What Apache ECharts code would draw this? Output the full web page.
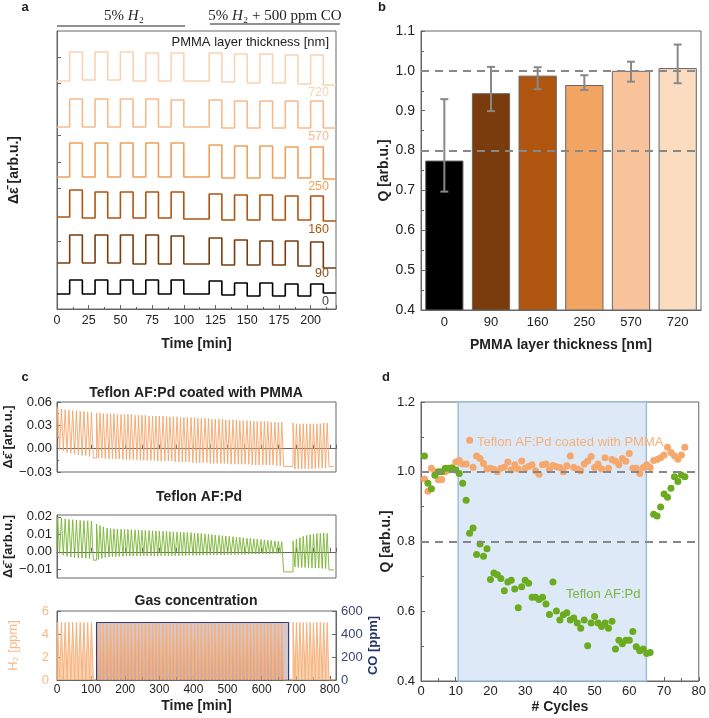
<!DOCTYPE html>
<html><head><meta charset="utf-8">
<script src="https://cdn.jsdelivr.net/npm/echarts@6/dist/echarts.min.js"></script>
<style>html,body{margin:0;padding:0;background:#fff}#c{width:709px;height:718px}</style>
</head><body><div id="c"></div><script>
// ---------- Panel a ----------
const aTimeOn  = [10,30,50,70,90,120,140,160,180,200];
const aTimeOff = [20,40,60,80,100,130,150,170,190,210];
const aTimeEnd = 220;
const aLabels = ['720','570','250','160','90','0'];
const aColors = ['#fbd3b2','#f7ba8c','#f0a05a','#b0540f','#7a3c0d','#000000'];
// low: level before first pulse, then level after each pulse
const aHigh720 = [2.57,2.57,2.57,2.56,2.56,2.56,2.55,2.55,2.54,2.54];
const aLow720  = [2.28,2.29,2.29,2.28,2.28,2.28,2.27,2.26,2.26,2.25,2.24];
const aHigh570 = [2.10,2.10,2.10,2.10,2.09,2.09,2.08,2.08,2.08,2.08];
const aLow570  = [1.82,1.82,1.82,1.82,1.82,1.82,1.81,1.81,1.81,1.81,1.81];
const aHigh250 = [1.66,1.66,1.66,1.66,1.66,1.64,1.63,1.63,1.62,1.62];
const aLow250  = [1.32,1.32,1.32,1.32,1.32,1.32,1.31,1.31,1.31,1.31,1.30];
const aHigh160 = [1.19,1.17,1.17,1.17,1.17,1.15,1.14,1.14,1.13,1.13];
const aLow160  = [0.92,0.91,0.91,0.91,0.91,0.90,0.89,0.89,0.89,0.89,0.88];
const aHigh90  = [0.74,0.74,0.74,0.74,0.73,0.71,0.69,0.68,0.68,0.67];
const aLow90   = [0.46,0.46,0.46,0.45,0.45,0.45,0.44,0.44,0.44,0.43,0.41];
const aHigh0   = [0.29,0.29,0.29,0.29,0.29,0.28,0.26,0.26,0.25,0.25];
const aLow0    = [0.15,0.15,0.15,0.15,0.15,0.15,0.14,0.13,0.13,0.13,0.16];
const aYTicks  = [2.52,2.26,1.74,1.47,1.21,0.68];

// ---------- Panel b ----------
const bCategories = ['0','90','160','250','570','720'];
const bValues = [0.775,0.944,0.988,0.9645,1.000,1.007];
const bErrLow = [0.697,0.899,0.954,0.952,0.973,0.969];
const bErrHigh = [0.929,1.010,1.009,0.989,1.023,1.066];
const bColors = ['#000000','#7a3c0d','#b05510','#f2a562','#f8c39a','#fcdcc1'];

// ---------- Panel c ----------
const cPulseOn = [2,13,24,35,46,57,68,79,90,101,
 116,126,136,147,157,167,177,188,198,208,218,229,239,249,259,270,280,290,300,311,321,331,341,352,362,372,382,393,403,413,423,434,444,454,464,475,485,495,505,516,526,536,546,557,567,577,587,598,608,618,628,639,649,659,
 692,702,712,722,732,742,752,762,772,782,792];
const cPulseLen = 5.5;
const cTimeEnd = 812;
const c1High = [0.053,0.051,0.050,0.050,0.049,0.049,0.048,0.048,0.047,0.047,
 0.046,0.046,0.045,0.045,0.045,0.045,0.044,0.044,0.044,0.044,0.044,0.043,0.043,0.043,0.043,0.042,0.042,0.042,0.042,0.042,
 0.041,0.041,0.041,0.041,0.040,0.040,0.040,0.040,0.040,0.039,0.039,0.039,0.039,0.038,0.038,0.038,0.038,0.037,0.037,0.037,
 0.037,0.036,0.036,0.036,0.036,0.035,0.035,0.035,0.035,0.035,0.034,0.034,0.034,0.034,
 0.033,0.032,0.032,0.032,0.032,0.032,0.032,0.032,0.032,0.033,0.033];
const c1Low = [0.013,
 -0.001,-0.003,-0.005,-0.006,-0.007,-0.008,-0.009,-0.009,-0.010,-0.012,
 -0.012,-0.012,-0.013,-0.013,-0.013,-0.013,-0.013,-0.014,-0.014,-0.014,-0.014,-0.014,-0.015,-0.015,-0.015,-0.015,-0.015,-0.016,-0.016,-0.016,
 -0.016,-0.016,-0.017,-0.017,-0.017,-0.017,-0.017,-0.018,-0.018,-0.018,-0.018,-0.018,-0.019,-0.019,-0.019,-0.019,-0.019,-0.019,-0.020,-0.020,
 -0.020,-0.020,-0.020,-0.020,-0.021,-0.021,-0.021,-0.021,-0.021,-0.021,-0.021,-0.022,-0.022,-0.023,
 -0.026,-0.026,-0.026,-0.026,-0.026,-0.026,-0.026,-0.025,-0.025,-0.025,-0.023];
const c2High = [0.0198,0.0192,0.0188,0.0185,0.0183,0.0181,0.0179,0.0178,0.0177,0.0176,
 0.0158,0.0150,0.0142,0.0136,0.0133,0.0131,0.0130,0.0129,0.0128,0.0127,0.0126,0.0125,0.0124,0.0123,0.0122,0.0121,0.0120,0.0119,0.0118,0.0117,
 0.0116,0.0115,0.0114,0.0113,0.0112,0.0111,0.0110,0.0109,0.0107,0.0106,0.0104,0.0102,0.0100,0.0098,0.0096,0.0094,0.0092,0.0090,0.0088,0.0086,
 0.0084,0.0082,0.0080,0.0078,0.0076,0.0074,0.0072,0.0070,0.0068,0.0066,0.0064,0.0062,0.0060,0.0058,
 0.0062,0.0072,0.0080,0.0088,0.0094,0.0098,0.0101,0.0104,0.0106,0.0108,0.0105];
const c2Low = [0.0012,
 -0.0010,-0.0020,-0.0026,-0.0030,-0.0033,-0.0035,-0.0036,-0.0037,-0.0038,-0.0048,
 -0.0044,-0.0038,-0.0033,-0.0030,-0.0028,-0.0027,-0.0026,-0.0026,-0.0025,-0.0025,-0.0025,-0.0025,-0.0024,-0.0024,-0.0024,-0.0024,-0.0024,-0.0023,-0.0023,-0.0023,
 -0.0023,-0.0023,-0.0022,-0.0022,-0.0022,-0.0022,-0.0021,-0.0021,-0.0021,-0.0020,-0.0020,-0.0020,-0.0019,-0.0019,-0.0019,-0.0018,-0.0018,-0.0017,-0.0017,-0.0016,
 -0.0016,-0.0015,-0.0015,-0.0014,-0.0014,-0.0013,-0.0013,-0.0012,-0.0012,-0.0011,-0.0011,-0.0010,-0.0010,-0.0115,
 -0.0087,-0.0089,-0.0090,-0.0090,-0.0091,-0.0092,-0.0093,-0.0094,-0.0095,-0.0096,-0.0104];
const cH2Level = 5;
const cCOTime = [116,116,679,679];
const cCOValue = [0,500,500,0];

// ---------- Panel d ----------
const dCycles = [1,2,3,4,5,6,7,8,9,10,11,12,13,14,15,16,17,18,19,20,21,22,23,24,25,26,27,28,29,30,31,32,33,34,35,36,37,38,
 39,40,41,42,43,44,45,46,47,48,49,50,51,52,53,54,55,56,57,58,59,60,61,62,63,64,65,66,67,68,69,70,71,72,73,74,75,76];
const dPMMA = [0.979,0.944,1.010,1.000,0.977,0.978,1.000,1.005,1.012,1.028,1.032,1.022,1.022,1.090,1.013,1.045,1.038,1.024,1.008,1.010,
 1.007,1.000,1.010,1.013,1.028,1.005,1.020,1.008,1.031,1.010,1.015,1.020,1.003,0.993,1.020,1.022,1.006,1.018,1.014,1.012,
 1.000,1.017,1.045,1.012,1.008,1.003,1.022,1.031,1.044,1.012,1.022,1.008,1.040,1.010,1.035,1.030,1.020,1.038,1.030,1.052,
 1.010,1.010,0.995,1.012,1.020,1.012,1.032,1.035,1.040,1.048,1.070,1.055,1.046,1.036,1.048,1.070];
const dTeflon = [1.045,0.967,0.951,0.990,1.000,1.000,1.010,1.010,1.010,1.005,0.995,0.967,0.918,0.824,0.839,0.763,0.793,0.758,0.779,0.691,
 0.710,0.705,0.694,0.659,0.684,0.689,0.664,0.610,0.670,0.689,0.680,0.640,0.640,0.634,0.640,0.621,0.591,0.684,0.601,0.575,
 0.590,0.596,0.575,0.581,0.566,0.551,0.575,0.501,0.566,0.585,0.566,0.556,0.566,0.551,0.571,0.492,0.517,0.507,0.517,0.517,
 0.542,0.498,0.487,0.492,0.479,0.482,0.878,0.873,0.899,0.936,0.927,0.953,0.986,0.972,0.991,0.986];
const dCOStart = 10.7, dCOEnd = 64.9;

// ---------- helpers ----------
function squareWave(on, off, end, high, low) {
  const pts = [[0, low[0]]];
  for (let i = 0; i < on.length; i++) {
    pts.push([on[i], low[i]], [on[i], high[i]], [off[i], high[i]], [off[i], low[i + 1]]);
  }
  pts.push([end, low[low.length - 1]]);
  return pts;
}
const cPulseOff = cPulseOn.map(t => t + cPulseLen);
const h2High = cPulseOn.map(() => cH2Level);
const h2Low = [0].concat(cPulseOn.map(() => 0));

const FONT = 'Liberation Sans, Arial, sans-serif';
const AXC = '#666';
const minus = v => String(v).replace('-', '\u2212');
const fix2 = v => minus(v.toFixed(2));

const aSeries = [
  [aHigh720, aLow720],[aHigh570, aLow570],[aHigh250, aLow250],
  [aHigh160, aLow160],[aHigh90, aLow90],[aHigh0, aLow0]
].map((hl, i) => ({
  type: 'line', xAxisIndex: 0, yAxisIndex: 0, showSymbol: false, silent: true,
  lineStyle: { width: 1.6, color: aColors[i] }, itemStyle: { color: aColors[i] },
  data: squareWave(aTimeOn, aTimeOff, aTimeEnd, hl[0], hl[1])
}));

function baseValueAxis(extra) {
  return Object.assign({
    type: 'value',
    axisLine: { show: true, lineStyle: { color: AXC } },
    axisTick: { show: true, inside: true, length: 4, lineStyle: { color: AXC } },
    splitLine: { show: false },
    axisLabel: { color: '#222', fontFamily: FONT, fontSize: 13 },
    nameTextStyle: { fontFamily: FONT, fontSize: 14, fontWeight: 'bold', color: '#222' },
    nameLocation: 'middle'
  }, extra);
}

const grids = [
  { left: 57, top: 31, width: 279, height: 278 },   // a
  { left: 421, top: 31, width: 280, height: 279 },  // b
  { left: 57, top: 402, width: 279, height: 70 },   // c1
  { left: 57, top: 515, width: 279, height: 63 },   // c2
  { left: 57, top: 611, width: 279, height: 69 },   // c3
  { left: 421, top: 402, width: 280, height: 279 }  // d
].map(g => Object.assign({ show: true, borderColor: AXC, borderWidth: 1, containLabel: false }, g));

const xAxes = [
  baseValueAxis({ gridIndex: 0, min: 0, max: aTimeEnd, interval: 25, name: 'Time [min]', nameGap: 28,
    minorTick: { show: true, splitNumber: 2, length: 2, lineStyle: { color: AXC } },
    axisLabel: { color: '#222', fontFamily: FONT, fontSize: 12.5, margin: 5, showMaxLabel: false } }),
  { type: 'category', gridIndex: 1, data: bCategories, name: 'PMMA layer thickness [nm]', nameLocation: 'middle', nameGap: 28,
    nameTextStyle: { fontFamily: FONT, fontSize: 14, fontWeight: 'bold', color: '#222' },
    axisLine: { show: true, lineStyle: { color: AXC } }, axisTick: { show: false },
    axisLabel: { color: '#222', fontFamily: FONT, fontSize: 13, margin: 6 } },
  baseValueAxis({ gridIndex: 2, min: 0, max: 818, interval: 50, axisLabel: { show: false } }),
  baseValueAxis({ gridIndex: 3, min: 0, max: 818, interval: 50, axisLabel: { show: false } }),
  baseValueAxis({ gridIndex: 4, min: 0, max: 818, interval: 100, name: 'Time [min]', nameGap: 19,
    minorTick: { show: true, splitNumber: 2, length: 3, lineStyle: { color: AXC } },
    axisLabel: { color: '#222', fontFamily: FONT, fontSize: 12, margin: 4, showMaxLabel: false } }),
  baseValueAxis({ gridIndex: 5, min: 0, max: 80, interval: 10, name: '# Cycles', nameGap: 19,
    minorTick: { show: true, splitNumber: 2, length: 3, lineStyle: { color: AXC } },
    axisLabel: { color: '#222', fontFamily: FONT, fontSize: 13, margin: 4 } })
];

const yAxes = [
  baseValueAxis({ gridIndex: 0, min: 0, max: 2.78, name: 'Δ\u03B5\u0304 [arb.u.]', nameGap: 36,
    axisLabel: { show: false },
    axisTick: { show: true, inside: true, length: 4, customValues: aYTicks, lineStyle: { color: AXC } } }),
  baseValueAxis({ gridIndex: 1, min: 0.4, max: 1.1, interval: 0.1, name: 'Q [arb.u.]', nameGap: 28,
    minorTick: { show: true, splitNumber: 2, length: 3, lineStyle: { color: AXC } },
    axisLabel: { color: '#222', fontFamily: FONT, fontSize: 14, margin: 6, formatter: v => v.toFixed(1) } }),
  baseValueAxis({ gridIndex: 2, min: -0.03, max: 0.06, interval: 0.03, name: 'Δ\u03B5\u0304 [arb.u.]', nameGap: 35,
    nameTextStyle: { fontFamily: FONT, fontSize: 13, fontWeight: 'bold', color: '#222' },
    minorTick: { show: true, splitNumber: 2, length: 2, lineStyle: { color: AXC } },
    axisLabel: { color: '#222', fontFamily: FONT, fontSize: 13, margin: 5, formatter: fix2 } }),
  baseValueAxis({ gridIndex: 3, min: -0.015, max: 0.021, name: 'Δ\u03B5\u0304 [arb.u.]', nameGap: 35,
    nameTextStyle: { fontFamily: FONT, fontSize: 13, fontWeight: 'bold', color: '#222' },
    axisTick: { show: true, inside: true, length: 4, customValues: [-0.01, 0, 0.01, 0.02], lineStyle: { color: AXC } },
    axisLabel: { color: '#222', fontFamily: FONT, fontSize: 13, margin: 5, customValues: [-0.01, 0, 0.01, 0.02], formatter: fix2 } }),
  baseValueAxis({ gridIndex: 4, min: 0, max: 6, interval: 2, name: 'H\u2082 [ppm]', nameGap: 37,
    nameTextStyle: { fontFamily: FONT, fontSize: 13, color: '#f6b98a' },
    axisLabel: { color: '#f6b98a', fontFamily: FONT, fontSize: 13, margin: 8 } }),
  baseValueAxis({ gridIndex: 4, min: 0, max: 600, interval: 200, position: 'right', name: 'CO [ppm]', nameGap: 30,
    nameTextStyle: { fontFamily: FONT, fontSize: 13, fontWeight: 'bold', color: '#26346e' },
    axisLabel: { color: '#3b4677', fontFamily: FONT, fontSize: 13, margin: 5 } }),
  baseValueAxis({ gridIndex: 5, min: 0.4, max: 1.2, interval: 0.2, name: 'Q [arb.u.]', nameGap: 28,
    minorTick: { show: true, splitNumber: 2, length: 3, lineStyle: { color: AXC } },
    axisLabel: { color: '#222', fontFamily: FONT, fontSize: 13, margin: 6, formatter: v => v.toFixed(1) } })
];

const dashLine = { type: [8, 6], color: '#888', width: 2 };

const series = aSeries.concat([
  { type: 'bar', xAxisIndex: 1, yAxisIndex: 1, barCategoryGap: '18%', silent: true,
    data: bValues.map((v, i) => ({ value: v, itemStyle: { color: bColors[i], borderColor: '#666', borderWidth: 1 } })),
    markLine: { silent: true, symbol: 'none', label: { show: false }, lineStyle: dashLine, z: 5,
      data: [{ yAxis: 1.0 }, { yAxis: 0.8 }] } },
  { type: 'custom', xAxisIndex: 1, yAxisIndex: 1, silent: true, z: 6,
    data: bErrLow.map((lo, i) => [i, lo, bErrHigh[i]]),
    renderItem: function (params, api) {
      const lo = api.coord([api.value(0), api.value(1)]);
      const hi = api.coord([api.value(0), api.value(2)]);
      const st = { stroke: '#888', lineWidth: 2 };
      const cw = 4;
      return { type: 'group', children: [
        { type: 'line', shape: { x1: lo[0], y1: lo[1], x2: hi[0], y2: hi[1] }, style: st },
        { type: 'line', shape: { x1: lo[0] - cw, y1: lo[1], x2: lo[0] + cw, y2: lo[1] }, style: st },
        { type: 'line', shape: { x1: hi[0] - cw, y1: hi[1], x2: hi[0] + cw, y2: hi[1] }, style: st }
      ] };
    } },
  { type: 'line', xAxisIndex: 2, yAxisIndex: 2, showSymbol: false, silent: true,
    lineStyle: { width: 0.9, color: '#f5a468' }, data: squareWave(cPulseOn, cPulseOff, cTimeEnd, c1High, c1Low) },
  { type: 'line', xAxisIndex: 3, yAxisIndex: 3, showSymbol: false, silent: true,
    lineStyle: { width: 0.9, color: '#78b432' }, data: squareWave(cPulseOn, cPulseOff, cTimeEnd, c2High, c2Low) },
  { type: 'line', xAxisIndex: 4, yAxisIndex: 4, showSymbol: false, silent: true,
    lineStyle: { width: 1, color: '#f7b07a' }, areaStyle: { color: 'rgba(249,188,138,0.9)', origin: 'start' },
    data: squareWave(cPulseOn, cPulseOff, cTimeEnd, h2High, h2Low) },
  { type: 'line', xAxisIndex: 4, yAxisIndex: 5, showSymbol: false, silent: true,
    lineStyle: { width: 1.2, color: '#2f3d7e' }, areaStyle: { color: 'rgba(120,78,100,0.45)', origin: 'start' },
    data: cCOTime.map((t, i) => [t, cCOValue[i]]) },
  { type: 'line', xAxisIndex: 5, yAxisIndex: 6, data: [], silent: true, z: 1,
    markArea: { silent: true, itemStyle: { color: '#dde9f6', borderColor: '#9cbfdc', borderWidth: 1.5 },
      data: [[{ xAxis: dCOStart }, { xAxis: dCOEnd }]] },
    markLine: { silent: true, symbol: 'none', label: { show: false }, lineStyle: dashLine,
      data: [{ yAxis: 1.0 }, { yAxis: 0.8 }] } },
  { type: 'scatter', xAxisIndex: 5, yAxisIndex: 6, symbolSize: 7, silent: true, z: 3,
    itemStyle: { color: '#f6a86c', opacity: 1 }, data: dCycles.map((c, i) => [c, dPMMA[i]]) },
  { type: 'scatter', xAxisIndex: 5, yAxisIndex: 6, symbolSize: 7, silent: true, z: 4,
    itemStyle: { color: '#6aab1f', opacity: 1 }, data: dCycles.map((c, i) => [c, dTeflon[i]]) }
]);

function txt(text, x, y, opts) {
  return { type: 'text', x: x, y: y, silent: true, z: 100,
    style: Object.assign({ text: text, fontFamily: FONT, fontSize: 13, fill: '#222',
      textAlign: 'left', textVerticalAlign: 'middle' }, opts || {}) };
}
const aLabelY = [93, 137, 187, 230, 274, 302];
const serifRich = { n: { fontFamily: 'Liberation Serif, serif', fontSize: 15, fill: '#222' },
                    i: { fontFamily: 'Liberation Serif, serif', fontSize: 15, fontStyle: 'italic', fill: '#222' } };
const graphics = [
  txt('a', 25, 7, { fontWeight: 'bold', fontSize: 13, textAlign: 'center' }),
  txt('b', 382, 7, { fontWeight: 'bold', fontSize: 13, textAlign: 'center' }),
  txt('c', 25, 377, { fontWeight: 'bold', fontSize: 13, textAlign: 'center' }),
  txt('d', 386, 377, { fontWeight: 'bold', fontSize: 13, textAlign: 'center' }),
  { type: 'line', z: 100, shape: { x1: 57, y1: 26, x2: 185, y2: 26 }, style: { stroke: '#222', lineWidth: 1 }, silent: true },
  { type: 'line', z: 100, shape: { x1: 210, y1: 24, x2: 340, y2: 24 }, style: { stroke: '#222', lineWidth: 1 }, silent: true },
  { type: 'text', x: 124, y: 16, z: 100, silent: true, style: {
      text: '{n|5% }{i|H}{n|\u2082}', textAlign: 'center', textVerticalAlign: 'middle', rich: serifRich } },
  { type: 'text', x: 275, y: 16, z: 100, silent: true, style: {
      text: '{n|5% }{i|H}{n|\u2082 + 500 ppm CO}', textAlign: 'center', textVerticalAlign: 'middle', rich: serifRich } },
  txt('PMMA layer thickness [nm]', 329, 42, { textAlign: 'right', fontSize: 13 }),
  txt('Teflon AF:Pd coated with PMMA', 196, 393, { textAlign: 'center', fontWeight: 'bold', fontSize: 14 }),
  txt('Teflon AF:Pd', 199, 497, { textAlign: 'center', fontWeight: 'bold', fontSize: 14 }),
  txt('Gas concentration', 196, 601, { textAlign: 'center', fontWeight: 'bold', fontSize: 14 }),
  txt('Teflon AF:Pd coated with PMMA', 477, 442, { fill: '#f7b07a', fontSize: 13 }),
  txt('Teflon AF:Pd', 566, 594, { fill: '#7ab540', fontSize: 13 })
].concat(aLabels.map((l, i) => txt(l, 329, aLabelY[i], { textAlign: 'right', fontSize: 12.5,
  fill: i === 5 ? '#444' : (i === 4 ? '#8a4a1c' : aColors[i]) })));

const chart = echarts.init(document.getElementById('c'), null, { renderer: 'canvas' });
chart.setOption({
  animation: false,
  backgroundColor: '#fff',
  grid: grids,
  xAxis: xAxes,
  yAxis: yAxes,
  series: series,
  graphic: graphics
});
</script></body></html>
